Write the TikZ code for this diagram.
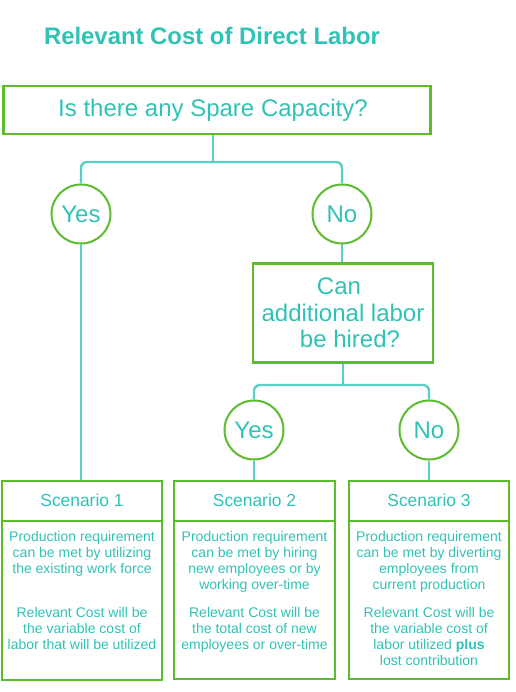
\documentclass[tikz,border=0pt]{standalone}
\usepackage{fontspec}
\setmainfont{Liberation Sans}
\definecolor{tealtxt}{HTML}{30C2B6}
\definecolor{grn}{HTML}{5CBC2E}
\definecolor{wirec}{HTML}{5ACFC8}
\begin{document}
\begin{tikzpicture}[x=1pt,y=-1pt,
  box/.style={draw=grn, line width=2.6pt, inner sep=0pt},
  ans/.style={circle, draw=grn, line width=2pt, minimum size=59pt, inner sep=0pt, text=tealtxt, font=\fontsize{24}{28}\selectfont},
  wire/.style={draw=wirec, line width=2.4pt, rounded corners=6pt},
  txt/.style={text=tealtxt, anchor=base, inner sep=0pt},
  big/.style={txt, font=\fontsize{24}{27}\selectfont},
  head/.style={txt, font=\fontsize{17.4}{20}\selectfont},
  body/.style={txt, font=\fontsize{14}{16}\selectfont}]
\useasboundingbox (0,0) rectangle (515,692);

% title
\node[txt, font=\bfseries\fontsize{23.9}{28}\selectfont] (title) at (212,45) {Relevant Cost of Direct Labor};

% question 1
\node[box, minimum width=427pt, minimum height=48pt] (q1) at (217,110) {};
\node[big] (q1t) at (213,117) {Is there any Spare Capacity?};

\node[ans] (yes1) at (81,214) {Yes};
\node[ans] (no1) at (342,214) {No};
\coordinate (f1) at (213,162);
\draw[wire] (f1 |- q1.south) -- (f1);
\draw[wire] (yes1.north) |- (f1) -| (no1.north);

% question 2
\node[box, minimum width=180pt, minimum height=99pt] (q2) at (343,313) {};
\node[big] (q2a) at (339,294) {Can};
\node[big] (q2b) at (343,321) {additional labor};
\node[big] (q2c) at (350,347) {be hired?};
\draw[wire] (no1.south) -- (no1.south |- q2.north);

\node[ans] (yes2) at (254,430) {Yes};
\node[ans] (no2) at (429,430) {No};
\coordinate (f2) at (343,385);
\draw[wire] (q2.south) -- (f2);
\draw[wire] (yes2.north) |- (f2) -| (no2.north);

% scenario boxes
\node[box, minimum width=160pt, minimum height=199pt] (s1) at (82,580.5) {};
\node[box, minimum width=161pt, minimum height=198pt] (s2) at (254.5,580) {};
\node[box, minimum width=160pt, minimum height=198pt] (s3) at (429,580) {};
\foreach \s in {s1,s2,s3} {
  \draw[draw=grn, line width=2.6pt] (\s.west |- 0,521) -- (\s.east |- 0,521);
}
\draw[wire] (yes1.south) -- (yes1.south |- s1.north);
\draw[wire] (yes2.south) -- (yes2.south |- s2.north);
\draw[wire] (no2.south) -- (no2.south |- s3.north);

\node[head] (h1) at (82,506) {Scenario 1};
\node[head] (h2) at (254.5,506) {Scenario 2};
\node[head] (h3) at (429,506) {Scenario 3};

\foreach \t [count=\i from 0] in {Production requirement, can be met by utilizing, the existing work force}
  \node[body] (s1p\i) at (82,541+16*\i) {\t};
\foreach \t [count=\i from 0] in {Relevant Cost will be, the variable cost of, labor that will be utilized}
  \node[body] (s1q\i) at (82,617+16*\i) {\t};

\foreach \t [count=\i from 0] in {Production requirement, can be met by hiring, new employees or by, working over-time}
  \node[body] (s2p\i) at (254.5,541+16*\i) {\t};
\foreach \t [count=\i from 0] in {Relevant Cost will be, the total cost of new, employees or over-time}
  \node[body] (s2q\i) at (254.5,617+16*\i) {\t};

\foreach \t [count=\i from 0] in {Production requirement, can be met by diverting, employees from, current production}
  \node[body] (s3p\i) at (429,541+16*\i) {\t};
\foreach \t [count=\i from 0] in {Relevant Cost will be, the variable cost of, labor utilized \textbf{plus}, lost contribution}
  \node[body] (s3q\i) at (429,617+16*\i) {\t};
\end{tikzpicture}
\end{document}
